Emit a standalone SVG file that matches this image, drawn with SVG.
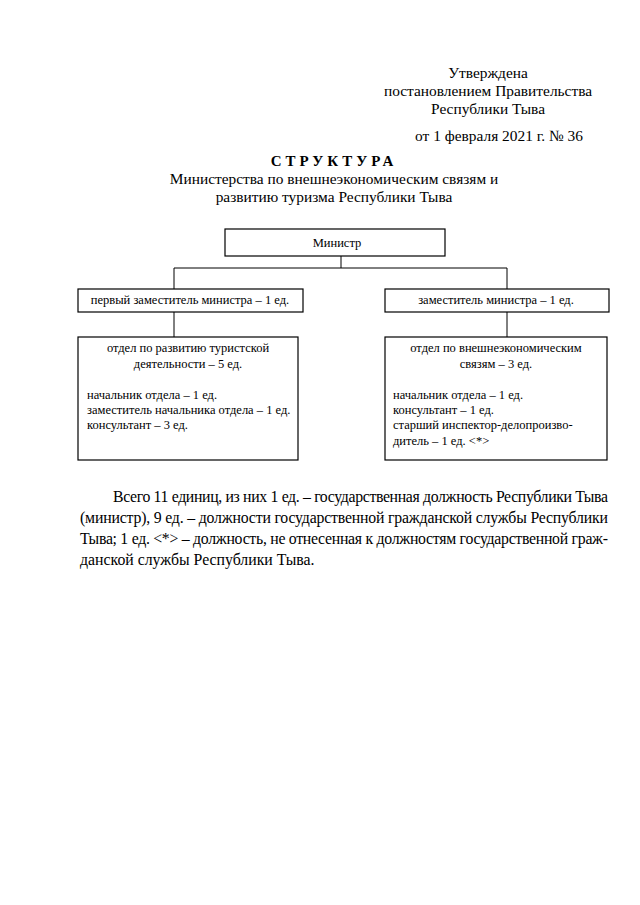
<svg xmlns="http://www.w3.org/2000/svg" width="640" height="905" viewBox="0 0 640 905">
<style>
text{font-family:"Liberation Serif","Times New Roman",serif;fill:#000}
.h{font-size:15.4px}
.p{font-size:15.8px}
.b{font-size:12.5px}
.c{text-anchor:middle}
.box{fill:#fff;stroke:#000;stroke-width:1.2}
.ln{fill:none;stroke:#000;stroke-width:1}
</style>
<rect width="640" height="905" fill="#fff"/>
<g id="header">
<text class="h c" x="488" y="78">Утверждена</text>
<text class="h c" x="488" y="96">постановлением Правительства</text>
<text class="h c" x="488" y="114">Республики Тыва</text>
<text class="h c" x="499" y="141">от 1 февраля 2021 г. № 36</text>
</g>
<g id="title">
<text class="c" x="334" y="166" style="font-size:15px;font-weight:bold;letter-spacing:4px">СТРУКТУРА</text>
<text class="h c" x="334" y="184">Министерства по внешнеэкономическим связям и</text>
<text class="h c" x="334" y="202">развитию туризма Республики Тыва</text>
</g>
<g id="connectors">
<path class="ln" d="M341 256V268M174 268H507M174 268V289M507 268V289M174 312V337M507 312V337"/>
</g>
<g id="minister">
<rect class="box" x="225" y="229" width="220" height="27"/>
<text class="c" x="337" y="247" style="font-size:12.5px">Министр</text>
</g>
<g id="first-deputy">
<rect class="box" x="78" y="289" width="225" height="23"/>
<text class="b c" x="190" y="304">первый заместитель министра – 1 ед.</text>
</g>
<g id="deputy">
<rect class="box" x="385" y="289" width="224" height="23"/>
<text class="b c" x="496" y="304">заместитель министра – 1 ед.</text>
</g>
<g id="dept-tourism">
<rect class="box" x="78" y="337" width="220" height="123"/>
<text class="b c" x="188" y="352">отдел по развитию туристской</text>
<text class="b c" x="188" y="368">деятельности – 5 ед.</text>
<text class="b" x="87" y="399">начальник отдела – 1 ед.</text>
<text class="b" x="87" y="414">заместитель начальника отдела – 1 ед.</text>
<text class="b" x="87" y="429">консультант – 3 ед.</text>
</g>
<g id="dept-foreign">
<rect class="box" x="385" y="337" width="222" height="123"/>
<text class="b c" x="496" y="352">отдел по внешнеэкономическим</text>
<text class="b c" x="496" y="368">связям – 3 ед.</text>
<text class="b" x="393" y="399">начальник отдела – 1 ед.</text>
<text class="b" x="393" y="414">консультант – 1 ед.</text>
<text class="b" x="393" y="429">старший инспектор-делопроизво-</text>
<text class="b" x="393" y="445">дитель – 1 ед. &lt;*&gt;</text>
</g>
<g id="note">
<text class="p" x="113" y="502" textLength="495" lengthAdjust="spacing">Всего 11 единиц, из них 1 ед. – государственная должность Республики Тыва</text>
<text class="p" x="80" y="523" textLength="528" lengthAdjust="spacing">(министр), 9 ед. – должности государственной гражданской службы Республики</text>
<text class="p" x="80" y="544" textLength="528" lengthAdjust="spacing">Тыва; 1 ед. &lt;*&gt; – должность, не отнесенная к должностям государственной граж-</text>
<text class="p" x="80" y="565">данской службы Республики Тыва.</text>
</g>
</svg>
